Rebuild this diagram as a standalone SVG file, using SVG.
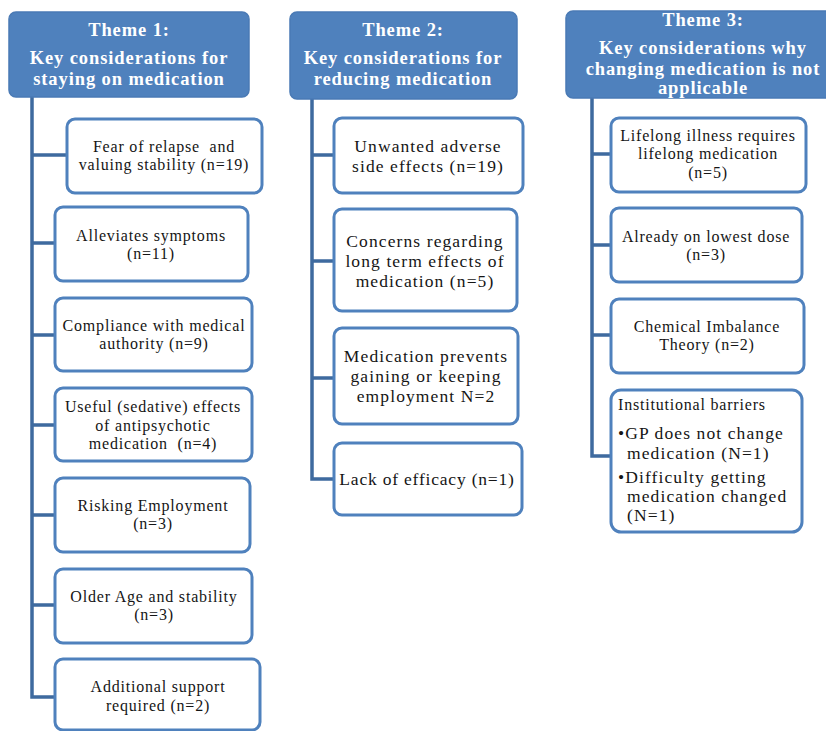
<svg xmlns="http://www.w3.org/2000/svg" width="826" height="731" viewBox="0 0 826 731">
  <style>
    .head rect { fill: #4F81BD; stroke: #4A7AB5; stroke-width: 1.5; }
    .head text { font-family: "Liberation Serif", "Times New Roman", serif; font-weight: bold; font-size: 18.5px; letter-spacing: 0.9px; fill: #FFFFFF; text-anchor: middle; }
    .item rect { fill: #FFFFFF; stroke: #4F81BD; stroke-width: 3; }
    .item text { font-family: "Liberation Serif", "Times New Roman", serif; font-size: 16px; letter-spacing: 0.8px; fill: #151515; text-anchor: middle; }
    .item text.left { text-anchor: start; }
    .big text { font-size: 17.5px; letter-spacing: 1.1px; }
    .links path { fill: none; stroke: #3E6A9F; stroke-width: 3.5; stroke-linejoin: miter; }
  </style>

  <!-- connectors: one trunk per theme with a branch to each item -->
  <g id="connectors" class="links">
    <path d="M32,97 V697 H55 M32,155 H67 M32,243 H55 M32,335 H55 M32,425 H55 M32,515 H55 M32,605 H55"/>
    <path d="M312,99 V479 H334 M312,155 H334 M312,261 H334 M312,378 H334"/>
    <path d="M592,98 V456 H611 M592,154 H611 M592,245 H611 M592,335 H611"/>
  </g>

  <!-- Theme headers -->
  <g id="theme1" class="head">
    <rect x="9" y="12" width="240" height="85" rx="7"/>
    <text x="129" y="36">Theme 1:</text>
    <text x="129" y="64">Key considerations for</text>
    <text x="129" y="85">staying on medication</text>
  </g>
  <g id="theme2" class="head">
    <rect x="290" y="12" width="227" height="87" rx="7"/>
    <text x="403" y="36">Theme 2:</text>
    <text x="403" y="64">Key considerations for</text>
    <text x="403" y="85">reducing medication</text>
  </g>
  <g id="theme3" class="head">
    <rect x="566" y="11" width="280" height="87" rx="7"/>
    <text x="703" y="26">Theme 3:</text>
    <text x="703" y="54">Key considerations why</text>
    <text x="703" y="75">changing medication is not</text>
    <text x="703" y="94">applicable</text>
  </g>

  <!-- Theme 1 items -->
  <g id="t1-relapse" class="item">
    <rect x="67" y="119" width="195" height="74" rx="8"/>
    <text x="164" y="152" xml:space="preserve">Fear of relapse  and</text>
    <text x="164" y="170">valuing stability (n=19)</text>
  </g>
  <g id="t1-symptoms" class="item">
    <rect x="55" y="207" width="193" height="74" rx="8"/>
    <text x="151" y="241">Alleviates symptoms</text>
    <text x="151" y="259">(n=11)</text>
  </g>
  <g id="t1-compliance" class="item">
    <rect x="55" y="298" width="197" height="73" rx="8"/>
    <text x="154" y="331">Compliance with medical</text>
    <text x="154" y="349">authority (n=9)</text>
  </g>
  <g id="t1-sedative" class="item">
    <rect x="55" y="388" width="197" height="73" rx="8"/>
    <text x="153" y="412">Useful (sedative) effects</text>
    <text x="153" y="431">of antipsychotic</text>
    <text x="153" y="449" xml:space="preserve">medication  (n=4)</text>
  </g>
  <g id="t1-employment" class="item">
    <rect x="55" y="478" width="195" height="74" rx="8"/>
    <text x="153" y="511">Risking Employment</text>
    <text x="153" y="529">(n=3)</text>
  </g>
  <g id="t1-age" class="item">
    <rect x="55" y="569" width="197" height="74" rx="8"/>
    <text x="154" y="602">Older Age and stability</text>
    <text x="154" y="620">(n=3)</text>
  </g>
  <g id="t1-support" class="item">
    <rect x="55" y="659" width="205" height="71" rx="8"/>
    <text x="158" y="692">Additional support</text>
    <text x="158" y="711">required (n=2)</text>
  </g>

  <!-- Theme 2 items -->
  <g id="t2-adverse" class="item big">
    <rect x="334" y="118" width="189" height="75" rx="8"/>
    <text x="428" y="152">Unwanted adverse</text>
    <text x="428" y="172">side effects (n=19)</text>
  </g>
  <g id="t2-longterm" class="item big">
    <rect x="334" y="209" width="183" height="102" rx="8"/>
    <text x="425" y="247">Concerns regarding</text>
    <text x="425" y="267">long term effects of</text>
    <text x="425" y="287">medication (n=5)</text>
  </g>
  <g id="t2-employment" class="item big">
    <rect x="334" y="328" width="184" height="96" rx="8"/>
    <text x="426" y="362">Medication prevents</text>
    <text x="426" y="382">gaining or keeping</text>
    <text x="426" y="402">employment N=2</text>
  </g>
  <g id="t2-efficacy" class="item">
    <rect x="334" y="443" width="188" height="72" rx="8"/>
    <text x="427" y="485" style="font-size:17.5px">Lack of efficacy (n=1)</text>
  </g>

  <!-- Theme 3 items -->
  <g id="t3-lifelong" class="item">
    <rect x="611" y="118" width="195" height="74" rx="8"/>
    <text x="708" y="141">Lifelong illness requires</text>
    <text x="708" y="159">lifelong medication</text>
    <text x="708" y="178">(n=5)</text>
  </g>
  <g id="t3-lowest" class="item">
    <rect x="611" y="208" width="191" height="74" rx="8"/>
    <text x="706" y="242">Already on lowest dose</text>
    <text x="706" y="260">(n=3)</text>
  </g>
  <g id="t3-chemical" class="item">
    <rect x="611" y="299" width="193" height="74" rx="8"/>
    <text x="707" y="332">Chemical Imbalance</text>
    <text x="707" y="350">Theory (n=2)</text>
  </g>
  <g id="t3-barriers" class="item big">
    <rect x="611" y="390" width="191" height="142" rx="10"/>
    <text class="left" x="618" y="410" style="font-size:16px;letter-spacing:0.8px">Institutional barriers</text>
    <text class="left" x="618" y="439">•GP does not change</text>
    <text class="left" x="627" y="459">medication (N=1)</text>
    <text class="left" x="618" y="483">•Difficulty getting</text>
    <text class="left" x="627" y="502">medication changed</text>
    <text class="left" x="627" y="521">(N=1)</text>
  </g>
</svg>
